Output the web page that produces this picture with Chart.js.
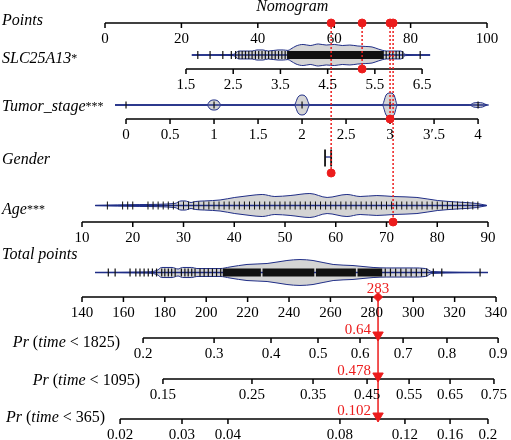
<!DOCTYPE html>
<html>
<head>
<meta charset="utf-8">
<script src="https://cdn.jsdelivr.net/npm/chart.js@4/dist/chart.umd.min.js"></script>
<style>
  html, body { margin: 0; padding: 0; background: #fff; }
  canvas { display: block; }
</style>
</head>
<body>
<canvas id="nomogram" width="511" height="440"></canvas>
<script>
// ---- axis ticks ----
const pointsTicks = [0, 20, 40, 60, 80, 100]
const slcTicks = [1.5, 2.5, 3.5, 4.5, 5.5, 6.5]
const tumorTicks = [0, 0.5, 1, 1.5, 2, 2.5, 3, 3.5, 4]
const tumorTickLabels = ["0", "0.5", "1", "1.5", "2", "2.5", "3", "3\u2032.5", "4"]
const ageTicks = [10, 20, 30, 40, 50, 60, 70, 80, 90]
const totalTicks = [140, 160, 180, 200, 220, 240, 260, 280, 300, 320, 340]

// probability ticks: label and the total points it sits at
const pr1825Labels = ["0.2", "0.3", "0.4", "0.5", "0.6", "0.7", "0.8", "0.9"]
const pr1825At = [169.5, 203.8, 231.3, 254.0, 274.3, 295.1, 316.3, 341.0]
const pr1095Labels = ["0.15", "0.25", "0.35", "0.45", "0.55", "0.65", "0.75"]
const pr1095At = [179.1, 222.1, 251.6, 277.7, 298.0, 317.8, 339.0]
const pr365Labels = ["0.02", "0.03", "0.04", "0.08", "0.12", "0.16", "0.2"]
const pr365At = [158.4, 188.3, 210.5, 264.6, 296.0, 317.8, 336.1]

// ---- observed distributions ----
const slcRange = [1.62, 6.67]
const slcObs = [1.75, 2.01, 2.28, 2.46, 2.55, 2.62, 2.69, 2.76, 2.83, 2.90, 2.97, 3.04, 3.11, 3.18,
  3.25, 3.32, 3.39, 3.46, 3.53, 3.60, 5.74, 5.81, 5.88, 5.95, 6.02, 6.09, 6.46]
const slcDense = [[3.64, 5.69]]
const slcDensAt = [1.63, 2.50, 2.62, 2.90, 3.00, 3.13, 3.24, 3.45, 3.56, 3.66, 3.72, 3.83, 3.98, 4.13,
  4.30, 4.47, 4.64, 4.81, 4.97, 5.14, 5.31, 5.44, 5.57, 5.67, 5.75, 6.05, 6.15, 6.67]
const slcDens = [0, 0.05, 0.33, 0.33, 0.42, 0.42, 0.33, 0.42, 0.42, 0.38, 0.5, 0.75, 0.88, 0.79,
  0.92, 0.83, 0.88, 0.79, 0.83, 0.75, 0.71, 0.67, 0.5, 0.38, 0.33, 0.33, 0.05, 0]

const tumorRange = [-0.125, 4.12]
const tumorObs = [0, 1, 2, 3, 4]
const tumorDensAt = [-0.125, 0.915, 0.955, 1.0, 1.045, 1.085, 1.91, 1.955, 2.0, 2.045, 2.09,
  2.91, 2.955, 3.0, 3.045, 3.085, 3.9, 3.95, 4.0, 4.05, 4.1]
const tumorDens = [0, 0, 0.33, 0.42, 0.33, 0, 0, 0.67, 0.83, 0.67, 0, 0, 0.83, 1.0, 0.83, 0,
  0, 0.17, 0.2, 0.17, 0]

const genderObsPts = [57.6, 59.2]

const ageRange = [12.6, 89.7]
const ageObs = [15, 18, 19, 20, 23, 24, 25, 26, 27, 28, 29, 30, 31, 32, 33, 34, 35, 36, 37, 38, 39,
  40, 41, 42, 43, 44, 45, 46, 47, 48, 49, 50, 51, 52, 53, 54, 55, 56, 57, 58, 59, 60, 61, 62, 63,
  64, 65, 66, 67, 68, 69, 70, 71, 72, 73, 74, 75, 76, 77, 78, 79, 80, 81, 82, 83, 84, 85, 86, 87, 88]
const ageDensAt = [12.6, 21.4, 28.3, 29.5, 30.3, 31.5, 32.3, 34.2, 37.2, 40.1, 43.1, 45.5, 48.0,
  51.0, 54.9, 58.3, 62.2, 64.8, 68.1, 71.3, 76.0, 80.0, 83.9, 87.8, 89.8]
const ageDens = [0, 0.08, 0.17, 0.38, 0.38, 0.25, 0.33, 0.38, 0.46, 0.67, 0.83, 0.92, 0.75,
  0.83, 1.0, 0.67, 0.92, 0.75, 0.83, 0.75, 0.67, 0.42, 0.29, 0.17, 0]

const totalRange = [146.3, 336.1]
const totalObs = [152.7, 156, 163.2, 166, 168, 170, 172, 174, 176, 178.5, 180, 181.7, 183.3, 185,
  188, 189.7, 191.3, 193, 194.6, 197, 199, 201, 203, 205, 207, 286.5, 289, 291.5, 294, 296.5,
  299, 301.5, 304, 306.5, 309.7, 313.8, 332.3]
const totalDense = [[208, 226.4], [227.2, 252.2], [253, 272.3], [273.1, 285]]
const totalDensAt = [146.3, 170, 176.2, 178.5, 183.5, 186.4, 188.5, 193, 195.5, 206.7, 211.5,
  219.7, 229.4, 239.0, 245.3, 251.6, 261.3, 270.9, 280.6, 287.3, 300, 306, 309, 336.1]
const totalDens = [0, 0.04, 0.17, 0.42, 0.42, 0.29, 0.42, 0.42, 0.33, 0.33, 0.46, 0.67, 0.75,
  1.0, 1.08, 1.0, 0.67, 0.58, 0.42, 0.38, 0.38, 0.33, 0.08, 0]

// ---- the highlighted patient ----
const patientSlc = 5.23
const patientTumor = 3
const patientGenderPts = 59.2
const patientAge = 71.3
const patientTotal = 283
const patientProbLabels = ["0.64", "0.478", "0.102"]

// value -> points, as each axis sits under the Points axis
const slcPts = v => 21.2 + (v - 1.5) * 12.36
const tumorPts = v => 5.5 + v * 23.04
const agePts = v => -6.02 + (v - 10) * 1.3285
const totalPts = t => -6.02 + (t - 140) * 0.5419
const samePts = v => v

// ---- layout (y in canvas pixels, scale is 0..440 reversed) ----
const ROW = {
  title: 11,
  points: { label: 25, axis: 23 },
  slc: { label: 63, center: 55, axis: 69 },
  tumor: { label: 111, center: 105, axis: 119 },
  gender: { label: 164, center: 158, dot: 173 },
  age: { label: 214, center: 205.5, axis: 222 },
  total: { label: 259, center: 272.5, axis: 297 },
  pr1825: { label: 347, axis: 338, gap: 23 },
  pr1095: { label: 385, axis: 379, gap: 23 },
  pr365: { label: 422, axis: 419, gap: 15 },
}

const NAVY = "#1f2d86"
const FILL = "#d4d4d4"
const RED = "#ec1c1c"
const VIOLIN_H = 12
const OBS_H = 4
const AXIS_TICK = 5
const FONT = "'Liberation Serif', 'Times New Roman', serif"

const datasets = []

function addLine(data, opts) {
  datasets.push(Object.assign({
    data, pointRadius: 0, borderWidth: 1.5, borderColor: "#000", fill: false, order: 20,
  }, opts))
}

function addMarks(data, opts) {
  datasets.push(Object.assign({
    data, showLine: false, pointStyle: "circle", pointRadius: 4, order: 5,
  }, opts))
}

function addViolin(at, dens, toPts, cy) {
  const upper = at.map((v, i) => ({ x: toPts(v), y: cy - dens[i] * VIOLIN_H }))
  const lower = at.map((v, i) => ({ x: toPts(v), y: cy + dens[i] * VIOLIN_H }))
  addLine(upper, { borderColor: NAVY, borderWidth: 1, cubicInterpolationMode: "monotone", order: 50 })
  addLine(lower, {
    borderColor: NAVY, borderWidth: 1, cubicInterpolationMode: "monotone",
    fill: "-1", backgroundColor: FILL, order: 50,
  })
}

function addObs(values, toPts, cy, half, width) {
  addMarks(values.map(v => ({ x: toPts(v), y: cy })), {
    pointStyle: "line", pointRotation: 90, pointRadius: half || OBS_H,
    pointBorderColor: "#111", pointBorderWidth: width || 1.2, order: 30,
  })
}

function addDense(bands, toPts, cy) {
  bands.forEach(b => {
    addLine([{ x: toPts(b[0]), y: cy }, { x: toPts(b[1]), y: cy }], {
      borderColor: "#111", borderWidth: OBS_H * 2, borderCapStyle: "butt", order: 30,
    })
  })
}

function addSpan(range, toPts, cy) {
  addLine([{ x: toPts(range[0]), y: cy }, { x: toPts(range[1]), y: cy }], {
    borderColor: NAVY, borderWidth: 1.3, order: 40,
  })
}

function addAxis(ptsList, y) {
  addLine([{ x: Math.min(...ptsList), y }, { x: Math.max(...ptsList), y }], {
    borderColor: "#000", borderWidth: 1.5, order: 20,
  })
  addMarks(ptsList.map(x => ({ x, y: y + AXIS_TICK / 2 })), {
    pointStyle: "line", pointRotation: 90, pointRadius: AXIS_TICK / 2,
    pointBorderColor: "#000", pointBorderWidth: 1.5, order: 20,
  })
}

// rows
addAxis(pointsTicks, ROW.points.axis)

addViolin(slcDensAt, slcDens, slcPts, ROW.slc.center)
addSpan(slcRange, slcPts, ROW.slc.center)
addObs(slcObs, slcPts, ROW.slc.center)
addDense(slcDense, slcPts, ROW.slc.center)
addAxis(slcTicks.map(slcPts), ROW.slc.axis)

addViolin(tumorDensAt, tumorDens, tumorPts, ROW.tumor.center)
addSpan(tumorRange, tumorPts, ROW.tumor.center)
addObs(tumorObs, tumorPts, ROW.tumor.center, 3.5)
addAxis(tumorTicks.map(tumorPts), ROW.tumor.axis)

addSpan([genderObsPts[0], genderObsPts[1]], samePts, ROW.gender.center - 1)
addObs(genderObsPts, samePts, ROW.gender.center, 8.5, 1.8)

addViolin(ageDensAt, ageDens, agePts, ROW.age.center)
addSpan(ageRange, agePts, ROW.age.center)
addObs(ageObs, agePts, ROW.age.center, OBS_H, 1)
addAxis(ageTicks.map(agePts), ROW.age.axis)

addViolin(totalDensAt, totalDens, totalPts, ROW.total.center)
addSpan(totalRange, totalPts, ROW.total.center)
addObs(totalObs, totalPts, ROW.total.center)
addDense(totalDense, totalPts, ROW.total.center)
addAxis(totalTicks.map(totalPts), ROW.total.axis)

addAxis(pr1825At.map(totalPts), ROW.pr1825.axis)
addAxis(pr1095At.map(totalPts), ROW.pr1095.axis)
addAxis(pr365At.map(totalPts), ROW.pr365.axis)

// patient: dotted guides from the Points axis down to each variable
const patientMarks = [
  { x: slcPts(patientSlc), y: ROW.slc.axis },
  { x: patientGenderPts, y: ROW.gender.dot },
  { x: tumorPts(patientTumor), y: ROW.tumor.axis },
  { x: agePts(patientAge), y: ROW.age.axis },
]
patientMarks.forEach(m => {
  addLine([{ x: m.x, y: ROW.points.axis }, { x: m.x, y: m.y }], {
    borderColor: RED, borderWidth: 1.5, borderDash: [2, 2], order: 10,
  })
})
addMarks(patientMarks, { pointBackgroundColor: RED, pointBorderColor: RED, pointRadius: 4, order: 5 })
addMarks(patientMarks.map(m => ({ x: m.x, y: ROW.points.axis })), {
  pointBackgroundColor: RED, pointBorderColor: RED, pointRadius: 4, order: 5,
})

const totalX = totalPts(patientTotal)
addLine([{ x: totalX, y: ROW.total.axis }, { x: totalX, y: ROW.pr365.axis }], {
  borderColor: RED, borderWidth: 1.5, order: 10,
})
addMarks([{ x: totalX, y: ROW.total.axis }], {
  pointStyle: "rectRot", pointRadius: 4.5, pointBackgroundColor: RED, pointBorderColor: RED, order: 5,
})
addMarks([ROW.pr1825.axis, ROW.pr1095.axis, ROW.pr365.axis].map(y => ({ x: totalX, y: y - 3 })), {
  pointStyle: "triangle", pointRotation: 180, pointRadius: 6,
  pointBackgroundColor: RED, pointBorderColor: RED, order: 4,
})

// ---- text ----
function fontFor(kind) {
  if (kind === "i") return "italic 16px " + FONT
  if (kind === "s") return "12px " + FONT
  return "16px " + FONT
}

function drawRuns(ctx, runs, x, y, align) {
  let w = 0
  runs.forEach(([t, k]) => { ctx.font = fontFor(k); w += ctx.measureText(t).width })
  let cx = align === "right" ? x - w : x
  ctx.textAlign = "left"
  ctx.textBaseline = "alphabetic"
  runs.forEach(([t, k]) => {
    ctx.font = fontFor(k)
    ctx.fillText(t, cx, y + (k === "s" ? -1 : 0))
    cx += ctx.measureText(t).width
  })
}

const labelPlugin = {
  id: "nomoLabels",
  afterDraw(chart) {
    const ctx = chart.ctx
    const X = v => chart.scales.x.getPixelForValue(v)
    const Y = v => chart.scales.y.getPixelForValue(v)
    ctx.save()
    ctx.fillStyle = "#000"

    ctx.font = "italic 16px " + FONT
    ctx.textAlign = "center"
    ctx.textBaseline = "alphabetic"
    ctx.fillText("Nomogram", X(49), Y(ROW.title))

    drawRuns(ctx, [["Points", "i"]], 2, Y(ROW.points.label))
    drawRuns(ctx, [["SLC25A13", "i"], ["*", "s"]], 2, Y(ROW.slc.label))
    drawRuns(ctx, [["Tumor_stage", "i"], ["***", "s"]], 2, Y(ROW.tumor.label))
    drawRuns(ctx, [["Gender", "i"]], 2, Y(ROW.gender.label))
    drawRuns(ctx, [["Age", "i"], ["***", "s"]], 2, Y(ROW.age.label))
    drawRuns(ctx, [["Total points", "i"]], 2, Y(ROW.total.label))

    const prRows = [
      ["1825", pr1825At, ROW.pr1825],
      ["1095", pr1095At, ROW.pr1095],
      ["365", pr365At, ROW.pr365],
    ]
    prRows.forEach(([t, at, row]) => {
      drawRuns(ctx, [["Pr", "i"], [" (", "n"], ["time", "i"], [" < " + t + ")", "n"]],
        X(totalPts(at[0])) - row.gap, Y(row.label), "right")
    })

    // tick labels
    ctx.font = "15px " + FONT
    ctx.textAlign = "center"
    ctx.textBaseline = "alphabetic"
    const tickRows = [
      [pointsTicks, pointsTicks.map(String), samePts, ROW.points.axis],
      [slcTicks, slcTicks.map(String), slcPts, ROW.slc.axis],
      [tumorTicks, tumorTickLabels, tumorPts, ROW.tumor.axis],
      [ageTicks, ageTicks.map(String), agePts, ROW.age.axis],
      [totalTicks, totalTicks.map(String), totalPts, ROW.total.axis],
      [pr1825At, pr1825Labels, totalPts, ROW.pr1825.axis],
      [pr1095At, pr1095Labels, totalPts, ROW.pr1095.axis],
      [pr365At, pr365Labels, totalPts, ROW.pr365.axis],
    ]
    tickRows.forEach(([vals, labels, toPts, axisY]) => {
      vals.forEach((v, i) => ctx.fillText(labels[i], X(toPts(v)), Y(axisY) + 20))
    })

    // patient values
    ctx.fillStyle = RED
    ctx.fillText(String(patientTotal), X(totalX), Y(ROW.total.axis) - 4)
    ctx.textAlign = "right"
    const prAxes = [ROW.pr1825.axis, ROW.pr1095.axis, ROW.pr365.axis]
    prAxes.forEach((y, i) => ctx.fillText(patientProbLabels[i], X(totalX) - 7, Y(y) - 4))
    ctx.restore()
  },
}

new Chart(document.getElementById("nomogram"), {
  type: "line",
  data: { datasets },
  options: {
    responsive: false,
    animation: false,
    devicePixelRatio: 1,
    events: [],
    layout: { padding: 0, autoPadding: false },
    plugins: { legend: { display: false }, tooltip: { enabled: false } },
    scales: {
      x: { type: "linear", min: -27.49, max: 106.28, display: false },
      y: { type: "linear", min: 0, max: 440, reverse: true, display: false },
    },
  },
  plugins: [labelPlugin],
})
</script>
</body>
</html>
